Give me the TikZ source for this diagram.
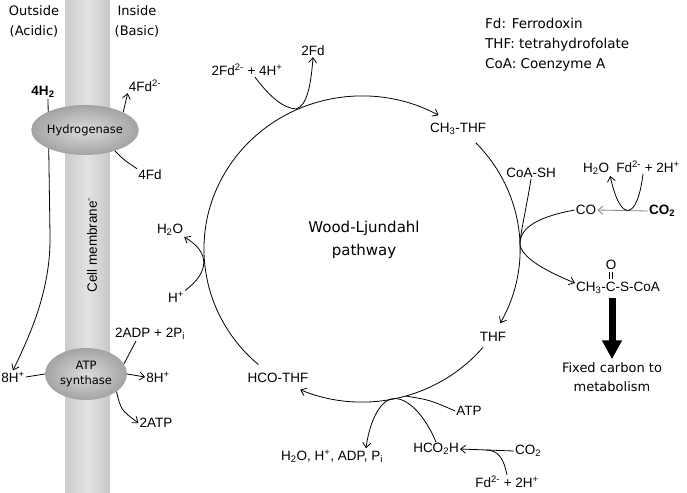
\documentclass[tikz,border=0pt]{standalone}
\usepackage{fontspec}
\setmainfont{Liberation Sans}
\newfontfamily\comic{DejaVu Sans}
\usetikzlibrary{shapes.geometric,arrows.meta,calc}
\newcommand\chsub[1]{\textsubscript{#1}}
\newcommand\chsup[1]{\textsuperscript{#1}}
\begin{document}
\begin{tikzpicture}[x=1pt,y=-1pt,
  lbl/.style={inner sep=1pt, font=\fontsize{13.5}{15}\selectfont},
  blbl/.style={inner sep=1pt, font=\bfseries\fontsize{13.5}{15}\selectfont},
  clbl/.style={inner sep=1pt, align=center, font=\comic\fontsize{13}{20}\selectfont},
  ln/.style={line width=0.8pt},
  arr/.style={line width=0.8pt, -{Straight Barb[length=5pt,width=8pt]}},
  enz/.style={ellipse, inner sep=0pt, align=center, inner color=black!14, outer color=black!36,
              font=\comic\fontsize{11.5}{15}\selectfont},
]
\useasboundingbox (0,0) rectangle (687,492);
\shade[left color=black!20, right color=black!22, middle color=black!11] (65,0) rectangle (110,492);

% membrane side
\node[clbl] (out) at (34,21) {Outside\\(Acidic)};
\node[clbl] (ins) at (137,21) {Inside\\(Basic)};
\node[blbl] (h2) at (43,92) {4H\chsub{2}};
\node[lbl] (fdr) at (145,86) {4Fd\chsup{2-}};
\node[lbl] (fd4) at (150,175) {4Fd};
\node[lbl] (h8l) at (13,377) {8H\chsup{+}};
\node[lbl] (h8r) at (158,377) {8H\chsup{+}};
\node[lbl] (adp) at (150,334) {2ADP + 2P\chsub{i}};
\node[lbl] (atp2) at (156,423) {2ATP};
\node[rotate=90, inner sep=1pt, font=\fontsize{13.5}{15}\selectfont] (mem) at (92,245) {Cell membrane\chsup{-}};

\draw[arr] ([xshift=5pt]h2.south) -- (50,235) .. controls (51,290) and (30,335) .. (h8l.north);

\node[enz, minimum width=84pt, minimum height=50pt] (hyd) at (85,130) {Hydrogenase};
\node[enz, minimum width=82pt, minimum height=52pt] (atps) at (86,374) {ATP\\synthase};

\draw[arr] (hyd.25) -- (fdr.south west);
\draw[ln] (fd4.north west) .. controls (124,160) .. (hyd.-35);
\draw[ln] (h8l.east) -- (atps.west);
\draw[arr] (atps.east) -- (h8r.west);
\draw[ln] ([xshift=-14pt]adp.south) -- (atps.15);
\draw[arr] (atps.-30) .. controls (121,410) .. (atp2.west);

% legend and title
\node[anchor=north west, inner sep=0pt, align=left, font=\comic\fontsize{13.5}{20}\selectfont] (legend) at (485,18)
  {Fd: Ferrodoxin\\THF: tetrahydrofolate\\CoA: Coenzyme A};
\node[clbl, font=\comic\fontsize{15}{23}\selectfont] (wl) at (364,240) {Wood-Ljundahl\\pathway};

% pathway labels
\node[lbl] (fdA) at (247,70) {2Fd\chsup{2-} + 4H\chsup{+}};
\node[lbl] (fd2) at (313,51) {2Fd};
\node[lbl] (ch3) at (458,129) {CH\chsub{3}-THF};
\node[lbl] (coash) at (531,173) {CoA-SH};
\node[lbl] (co) at (586,210) {CO};
\node[blbl] (co2) at (662,211) {CO\chsub{2}};
\node[lbl] (h2oA) at (596,169) {H\chsub{2}O};
\node[lbl] (fdB) at (648,167) {Fd\chsup{2-} + 2H\chsup{+}};
\node[lbl] (acet) at (618,288) {CH\chsub{3}-C-S-CoA};
\node[lbl] (oxy) at (611,265) {O};
\node[clbl, font=\comic\fontsize{13}{19}\selectfont] (fixed) at (612,377) {Fixed carbon to\\metabolism};
\node[lbl] (thf) at (493,337) {THF};
\node[lbl] (hco) at (278,378) {HCO-THF};
\node[lbl] (atp) at (469,411) {ATP};
\node[lbl] (hco2h) at (436,449) {HCO\chsub{2}H};
\node[lbl] (prod) at (332,456) {H\chsub{2}O, H\chsup{+}, ADP, P\chsub{i}};
\node[lbl] (co2b) at (528,451) {CO\chsub{2}};
\node[lbl] (fdC) at (507,482) {Fd\chsup{2-} + 2H\chsup{+}};
\node[lbl] (h2oB) at (170,230) {H\chsub{2}O};
\node[lbl] (hp) at (176,297) {H\chsup{+}};

% cycle arcs
\coordinate (a1s) at (258.3,364.5);
\coordinate (a2s) at (475.7,142.7);
\coordinate (a3s) at (483,347.3);
\draw[arr] (a1s) arc[start angle=131, end angle=299, x radius=158, y radius=153];
\draw[arr] (a2s) arc[start angle=-44, end angle=29, x radius=158, y radius=153];
\draw[arr] (a3s) arc[start angle=40, end angle=113, x radius=158, y radius=153];

% side reactions
\coordinate (T1) at (296,109);
\draw[arr] ([xshift=8pt]fdA.south) .. controls (270,97) and (283,108) .. (T1)
   .. controls (307,106) and (311,85) .. (fd2.south);
\coordinate (J) at (519.9,243.7);
\draw[ln] (coash.south) .. controls (526,210) and (521,230) .. (J);
\draw[ln] (co.west) .. controls (537,217) and (520,228) .. (J);
\draw[arr] (J) .. controls (521,258) and (548,272) .. ([yshift=5pt]acet.west);
\draw[arr, black!50] (co2.west) -- (co.east);
\draw[arr] ([xshift=-5pt]fdB.south) .. controls (637,222) and (620,222) .. (h2oA.south east);
\draw[line width=0.5pt] ([xshift=-1.5pt,yshift=-1pt]oxy.south) -- ++(0,7);
\draw[line width=0.5pt] ([xshift=1.5pt,yshift=-1pt]oxy.south) -- ++(0,7);
\draw[line width=7pt, -{Triangle[length=19pt,width=19pt]}] (fixed.north |- acet.south) ++(0,3) -- ([yshift=2pt]fixed.north);

\coordinate (T2) at (405.5,396);
\draw[ln] (atp.west) .. controls (430,400) .. (T2);
\coordinate (T3) at (395,398.5);
\draw[arr] (hco2h.north) .. controls (426,418) and (410,399) .. (T3)
   .. controls (382,398) and (370,418) .. ([xshift=34pt]prod.north);
\draw[arr] (co2b.west) -- (hco2h.east);
\coordinate (M) at ($(hco2h.east)!0.48!(co2b.west)$);
\draw[ln] (fdC.north) .. controls (504,460) and (499,450) .. (M);
\draw[arr] (hp.north east) .. controls (210,272) and (210,252) .. (h2oB.south east);
\end{tikzpicture}
\end{document}
